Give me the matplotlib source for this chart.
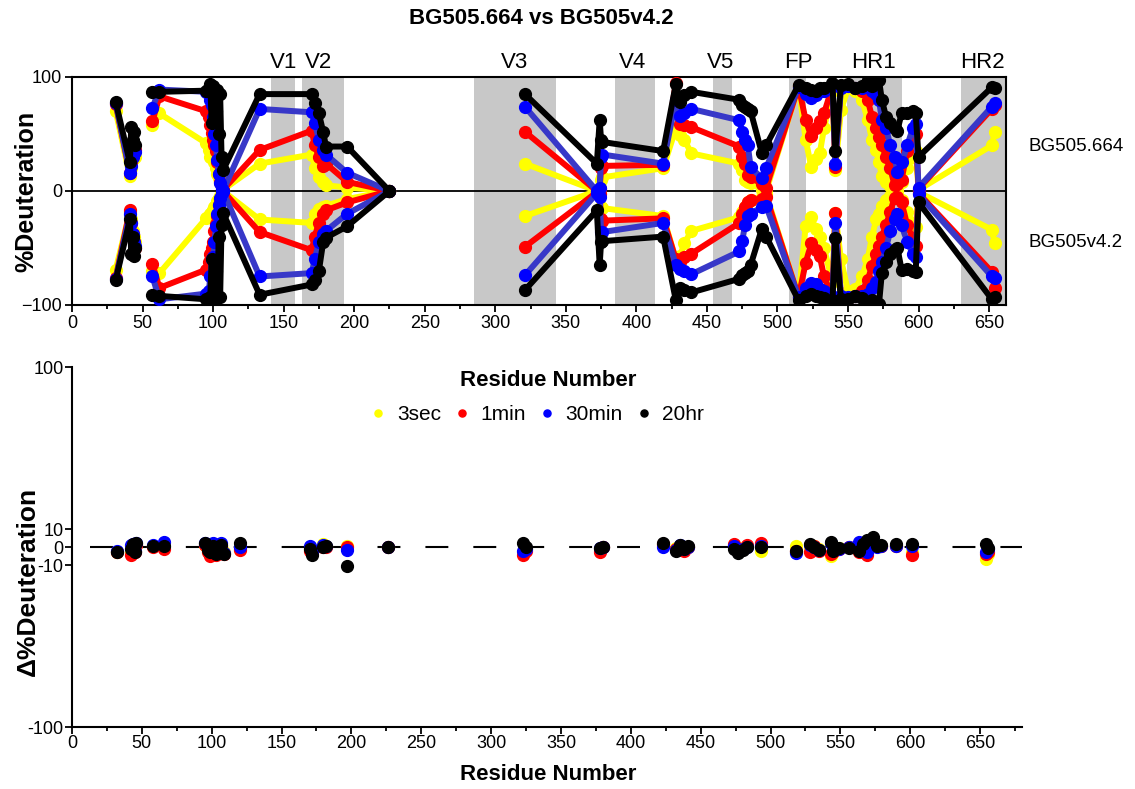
import numpy as np
import matplotlib
matplotlib.use("Agg")
import matplotlib.pyplot as plt
from matplotlib.ticker import MultipleLocator
import matplotlib.transforms as mtransforms

plt.rcParams['font.family'] = ['Liberation Sans', 'DejaVu Sans']

# ---------------- data ----------------
timepoints = ["3sec", "1min", "30min", "20hr"]
colors_line = ["#ffff00", "#ff0000", "#3838c8", "#000000"]
colors_mark = ["#ffff00", "#ff0000", "#0000ff", "#000000"]

regions = ["V1", "V2", "V3", "V4", "V5", "FP", "HR1", "HR2"]
region_start = [141, 163, 285, 385, 454, 508, 549, 630]
region_end = [158, 193, 343, 413, 468, 520, 588, 662]
region_label_x = [150, 175, 314, 397, 460, 515, 568, 645]

# segment A
xA = [31, 41, 42, 43, 44, 45]
topA_3sec = [70, 13, 20, 28, 35, 30]
topA_1min = [76, 16, 25, 32, 40, 36]
topA_30min = [77, 16, 22, 30, 38, 34]
topA_20hr = [78, 25, 56, 45, 52, 40]
botA_3sec = [69, 18, 25, 35, 40, 45]
botA_1min = [76, 17, 28, 38, 45, 50]
botA_30min = [77, 20, 28, 38, 45, 48]
botA_20hr = [78, 25, 55, 40, 57, 50]

# segment B
xB = [57, 62, 95, 97, 98, 99, 100, 101, 102, 103, 104, 105, 106, 107,
      133, 170, 172, 175, 178, 180, 195, 225]
topB_3sec = [58, 68, 42, 36, 30, 33, 28, 25, 20, 15, 11, 8, 4, 1, 24, 32, 20, 12, 8, 5, 3, 0]
topB_1min = [61, 83, 70, 65, 58, 51, 45, 40, 35, 25, 15, 8, 3, 1, 36, 53, 40, 30, 22, 24, 8, 0]
topB_30min = [73, 89, 87, 86, 80, 75, 65, 50, 40, 27, 15, 7, 2, 0, 72, 69, 60, 45, 36, 32, 16, 0]
topB_20hr = [87, 87, 88, 90, 94, 60, 92, 85, 70, 89, 50, 85, 30, 18, 85, 85, 77, 68, 52, 39, 39, 0]
botB_3sec = [70, 72, 24, 22, 20, 18, 17, 14, 12, 9, 6, 4, 2, 0, 25, 28, 20, 16, 14, 13, 7, 0]
botB_1min = [64, 85, 69, 62, 55, 50, 45, 35, 29, 22, 12, 7, 3, 0, 36, 52, 40, 28, 20, 17, 10, 0]
botB_30min = [75, 95, 90, 88, 75, 60, 58, 45, 31, 20, 12, 6, 2, 0, 75, 72, 60, 45, 38, 35, 20, 0]
botB_20hr = [91, 92, 95, 96, 93, 60, 96, 90, 70, 94, 40, 93, 30, 19, 91, 82, 78, 70, 45, 41, 31, 0]

# segment C
xC = [321, 372, 374, 375, 376, 419, 428, 431, 434, 439, 473, 475, 477, 479, 481, 489, 492,
      515, 520, 524, 527, 530, 533, 539, 541, 545, 550, 555, 560, 564, 567, 570, 572, 574,
      577, 580, 583, 585, 588, 592, 596, 598, 600, 652, 654]
topC_3sec = [24, 0, 3, 10, 12, 20, 55, 49, 45, 33, 24, 18, 10, 8, 7, 1, 0,
             92, 45, 21, 28, 33, 55, 88, 18, 71, 90, 88, 80, 62, 45, 36, 25, 13,
             8, 4, 1, 0, 8, 20, 30, 35, 1, 40, 52]
topC_1min = [52, 0, 2, 20, 22, 23, 95, 59, 58, 56, 39, 30, 24, 14, 12, 6, 3,
             92, 62, 48, 55, 61, 68, 92, 21, 92, 93, 90, 88, 80, 65, 55, 47, 40,
             30, 20, 5, 6, 10, 35, 45, 50, 2, 72, 75]
topC_30min = [74, 0, 3, 30, 32, 24, 80, 66, 68, 72, 62, 52, 45, 40, 21, 11, 20,
              91, 85, 82, 84, 88, 88, 93, 24, 90, 92, 90, 90, 92, 88, 85, 80, 62,
              55, 40, 30, 17, 25, 40, 55, 59, 3, 74, 77]
topC_20hr = [85, 24, 62, 45, 43, 35, 94, 78, 84, 87, 80, 75, 74, 72, 70, 33, 40,
             93, 90, 89, 88, 90, 90, 95, 35, 93, 94, 90, 92, 97, 92, 96, 97, 80,
             65, 60, 55, 53, 68, 68, 70, 68, 30, 91, 90]
botC_3sec = [22, 0, 2, 14, 15, 22, 60, 57, 46, 35, 23, 18, 14, 10, 8, 5, 3,
             93, 31, 23, 33, 40, 50, 80, 19, 60, 88, 86, 75, 60, 40, 25, 20, 13,
             8, 4, 1, 0, 8, 18, 28, 32, 1, 34, 46]
botC_1min = [49, 1, 3, 25, 26, 24, 60, 62, 58, 55, 28, 20, 14, 10, 8, 7, 5,
             93, 63, 46, 52, 57, 75, 93, 19, 93, 94, 92, 88, 78, 66, 55, 48, 40,
             30, 18, 6, 5, 10, 30, 42, 48, 2, 71, 85]
botC_30min = [74, 2, 5, 36, 36, 28, 65, 68, 70, 73, 53, 44, 30, 22, 20, 14, 13,
              93, 85, 81, 82, 86, 88, 92, 28, 92, 93, 92, 92, 90, 85, 80, 70, 62,
              50, 35, 25, 20, 30, 45, 55, 58, 3, 75, 76]
botC_20hr = [87, 17, 65, 45, 44, 40, 96, 85, 87, 89, 77, 74, 72, 70, 65, 33, 40,
             96, 92, 90, 92, 93, 94, 96, 41, 95, 95, 92, 94, 97, 96, 98, 99, 72,
             62, 55, 52, 50, 69, 68, 70, 71, 10, 95, 93]

# difference plot
dx = [32, 42, 44, 45, 46, 58, 66, 95, 97, 99, 101, 103, 105, 107, 109, 120, 170, 172,
      180, 182, 197, 226, 323, 325, 378, 380, 423, 432, 435, 438, 441, 474, 477, 480,
      483, 493, 518, 528, 531, 535, 543, 545, 549, 556, 563, 566, 569, 573, 576, 579,
      590, 601, 654, 656]
d_3sec = [-2.5, -3.5, 1.0, -2.0, 1.0, 0.5, 0.0, 1.0, -2.0, -4.0, 0.0, -3.5, -1.5, 0.5,
          -3.0, -1.0, -1.0, -3.0, 1.6, 0.5, 0.5, 0.0, -3.0, -1.0, -1.5, 0.0, 1.0, -0.5,
          0.5, -1.0, 0.0, 1.0, -1.0, -0.5, 0.5, -2.0, 0.8, -1.0, 0.5, -1.0, -5.0, -2.0,
          -0.5, 0.0, -2.0, -1.5, -3.0, 1.0, 0.5, 0.5, 0.5, -3.0, -6.5, -4.0]
d_1min = [-3.0, -4.5, 0.0, -2.5, 1.0, 0.0, -1.0, 1.0, -3.0, -5.0, -1.0, -4.5, -2.0, 0.5,
          -4.0, -1.5, -2.0, -3.5, 0.0, 0.0, 0.0, 0.0, -4.5, -2.0, -2.5, 0.0, 1.5, -1.0,
          0.5, -2.0, 0.0, 1.5, -2.0, -1.0, 1.0, 2.4, -2.0, -3.0, 0.5, -2.0, -4.0, -3.0,
          -1.0, 0.0, -3.0, -2.5, -4.3, 1.0, 0.5, 0.5, 0.5, -4.3, -3.7, -2.5]
d_30min = [-2.0, 1.0, 1.5, -2.0, 2.0, 1.0, 2.8, 2.4, 0.5, -2.0, 2.0, -3.0, -1.0, 2.0,
           -3.5, 0.0, 0.5, -3.0, 1.0, 0.5, -1.5, 0.0, -2.0, -1.0, -0.5, 0.0, 0.0, -1.5,
           1.0, -1.0, 0.0, 0.5, -1.5, -1.0, 0.0, 0.5, -3.4, 1.0, 0.0, -1.5, 2.0, -1.0,
           -1.0, 0.0, 3.0, 2.5, -2.5, 3.0, 0.0, 0.5, 0.5, 0.5, -2.5, -1.0]
d_20hr = [-3.0, -1.0, 1.5, -3.0, 2.5, 0.5, 0.5, 2.0, -1.5, -3.0, 0.5, -4.0, -2.0, 1.0,
          -4.0, 2.0, -1.0, -4.5, 0.0, 0.5, -10.7, 0.0, 2.5, 0.0, -0.5, 0.0, 2.0, -2.0,
          1.0, -1.0, 0.5, -1.0, -3.5, -1.5, 0.0, 0.0, -2.2, 1.5, 0.0, -1.5, 3.0, -2.0,
          -0.5, -0.5, -2.0, 1.5, 4.0, 5.5, 0.5, 1.0, 1.5, 1.5, 1.5, -0.5]

# ---------------- figure ----------------
fig = plt.figure(figsize=(11.35, 7.89), dpi=100)
W, H = 1135, 789


def ax_rect(l, t, r, b):
    return [l / W, 1 - b / H, (r - l) / W, (b - t) / H]


ax1 = fig.add_axes(ax_rect(72, 77, 1006, 305))
ax2 = fig.add_axes(ax_rect(72, 367, 1022, 727))

LW = 4.3
MS = 8.5

# bands
for s, e in zip(region_start, region_end):
    ax1.axvspan(s, e, color="#c8c8c8", lw=0, zorder=0)
trans = mtransforms.blended_transform_factory(ax1.transData, ax1.transAxes)
for lab, xl in zip(regions, region_label_x):
    ax1.text(xl, 1.062, lab, transform=trans, ha="center", va="center", fontsize=16)

ax1.axhline(0, color="black", lw=1.3, zorder=1)

tops = [
    [topA_3sec, topB_3sec, topC_3sec],
    [topA_1min, topB_1min, topC_1min],
    [topA_30min, topB_30min, topC_30min],
    [topA_20hr, topB_20hr, topC_20hr],
]
bots = [
    [botA_3sec, botB_3sec, botC_3sec],
    [botA_1min, botB_1min, botC_1min],
    [botA_30min, botB_30min, botC_30min],
    [botA_20hr, botB_20hr, botC_20hr],
]
xs = [xA, xB, xC]
for i in range(4):
    z = 2 + i
    for seg in range(3):
        x = np.array(xs[seg])
        yt = np.array(tops[i][seg], dtype=float)
        yb = -np.array(bots[i][seg], dtype=float)
        for yy in (yt, yb):
            ax1.plot(x, yy, color=colors_line[i], lw=LW, zorder=z,
                     solid_joinstyle="round", solid_capstyle="round")
            ax1.plot(x, yy, ls="none", marker="o", ms=MS, color=colors_mark[i],
                     mec=colors_mark[i], zorder=z)

ax1.set_xlim(0, 662)
ax1.set_ylim(-100, 100)
ax1.set_yticks([-100, 0, 100])
ax1.xaxis.set_major_locator(MultipleLocator(50))
ax1.xaxis.set_minor_locator(MultipleLocator(25))
ax1.tick_params(axis="both", which="major", labelsize=13, length=5, width=1.3, pad=2)
ax1.tick_params(axis="x", which="minor", length=3, width=1.3)
for sp in ax1.spines.values():
    sp.set_linewidth(1.5)

ax1.text(1.024, 0.697, "BG505.664", transform=ax1.transAxes, ha="left", va="center", fontsize=13.5)
ax1.text(1.024, 0.276, "BG505v4.2", transform=ax1.transAxes, ha="left", va="center", fontsize=13.5)

# bottom panel
ax2.axhline(0, color="black", lw=1.5, linestyle=(0, (11, 12)), zorder=1,
            xmin=13 / 680, xmax=1.0)
for i in range(4):
    dvals = [d_3sec, d_1min, d_30min, d_20hr][i]
    ax2.plot(dx, dvals, ls="none", marker="o", ms=MS, color=colors_mark[i],
             mec=colors_mark[i], zorder=2 + i, label=timepoints[i])

ax2.set_xlim(0, 680)
ax2.set_ylim(-100, 100)
ax2.set_yticks([-100, -10, 0, 10, 100])
ax2.set_yticklabels(["-100", "-10", "0", "10", "100"])
ax2.xaxis.set_major_locator(MultipleLocator(50))
ax2.xaxis.set_minor_locator(MultipleLocator(25))
ax2.tick_params(axis="both", which="major", labelsize=13, length=5, width=1.3, pad=1)
ax2.tick_params(axis="x", which="minor", length=3, width=1.3)
ax2.spines["top"].set_visible(False)
ax2.spines["right"].set_visible(False)
for sp in ("left", "bottom"):
    ax2.spines[sp].set_linewidth(1.5)

# texts
fig.text(541 / W, 1 - 18 / H, "BG505.664 vs BG505v4.2", ha="center", va="center",
         fontsize=16, fontweight="bold")
fig.text(26 / W, 1 - 191 / H, "%Deuteration", rotation=90, ha="center", va="center",
         fontsize=18, fontweight="bold")
fig.text(28 / W, 1 - 581 / H, "\u0394%Deuteration", rotation=90, ha="center", va="center",
         fontsize=19, fontweight="bold")
fig.text(548 / W, 1 - 380 / H, "Residue Number", ha="center", va="center",
         fontsize=16, fontweight="bold")
fig.text(548 / W, 1 - 775 / H, "Residue Number", ha="center", va="center",
         fontsize=16, fontweight="bold")

handles, labels = ax2.get_legend_handles_labels()
for h in handles:
    pass
leg = fig.legend(handles, labels, loc="center", bbox_to_anchor=(537 / W, 1 - 415 / H),
                 ncol=4, frameon=False, fontsize=15, handlelength=0.8, handletextpad=0.5,
                 columnspacing=0.6, markerscale=0.6)

fig.savefig("out.png", dpi=100)
